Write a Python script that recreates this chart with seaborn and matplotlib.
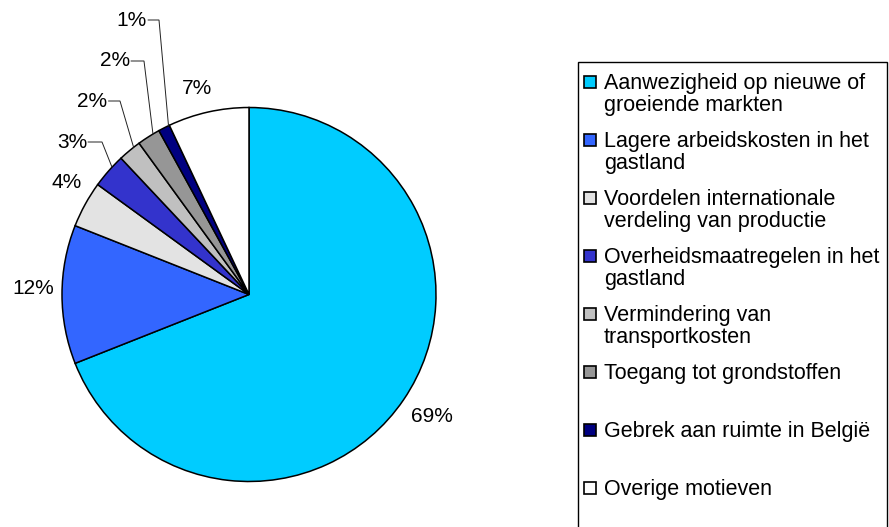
import numpy as np
import matplotlib
matplotlib.use("Agg")
import matplotlib.pyplot as plt
import seaborn as sns
from matplotlib.patches import Rectangle

# ---- data ----
categories = [
    "Aanwezigheid op nieuwe of\ngroeiende markten",
    "Lagere arbeidskosten in het\ngastland",
    "Voordelen internationale\nverdeling van productie",
    "Overheidsmaatregelen in het\ngastland",
    "Vermindering van\ntransportkosten",
    "Toegang tot grondstoffen",
    "Gebrek aan ruimte in België",
    "Overige motieven",
]
values = [69, 12, 4, 3, 2, 2, 1, 7]
pct_labels = ["69%", "12%", "4%", "3%", "2%", "2%", "1%", "7%"]
colors = ["#00CCFF", "#3366FF", "#E3E3E3", "#3333CC",
          "#C0C0C0", "#969696", "#000080", "#FFFFFF"]

# ---- layout (pixels) ----
W, H = 889, 527
CX, CY, R = 249, 294.5, 187.0
FONT = "Liberation Sans"

sns.set_theme(style="white")
plt.rcParams["font.family"] = [FONT, "DejaVu Sans"]

fig = plt.figure(figsize=(W / 100, H / 100), dpi=100)
fig.patch.set_facecolor("white")
ax = fig.add_axes([0, 0, 1, 1])
ax.set_facecolor("white")

ax.pie(values, colors=colors, startangle=90, counterclock=False, radius=1.0,
       wedgeprops=dict(edgecolor="black", linewidth=1.1))
ax.set_xlim(-CX / R, (W - CX) / R)
ax.set_ylim(-(H - CY) / R, CY / R)
ax.set_aspect("equal", adjustable="box")
ax.axis("off")

def px(x, y):
    return (x - CX) / R, (CY - y) / R

# mid angles of wedges
cum = np.cumsum([0] + values[:-1]) + np.array(values) / 2
mid = np.deg2rad(90 - np.array(cum) / sum(values) * 360)

# label placement (text centre in px, elbow x in px or None)
label_pos = {0: ((432, 417), None), 1: ((33, 288), None),
             2: ((67, 182), None), 3: ((72, 142), 102),
             4: ((92.5, 101), 120), 5: ((115, 61), 144),
             6: ((132, 20), 159), 7: ((197, 88), None)}
for i, lab in enumerate(pct_labels):
    (tx, ty), ex = label_pos[i]
    x0, y0 = px(tx, ty)
    ax.text(x0, y0, lab, ha="center", va="center", fontsize=15,
            color="black", family=FONT)
    if ex is not None:
        xs, ys = px(tx + 16, ty)
        xe, _ = px(ex, ty)
        a = mid[i] - np.deg2rad(1.5)
        xa, ya = np.cos(a), np.sin(a)
        ax.plot([xs, xe, xa], [ys, ys, ya], color="#222222", lw=0.7,
                solid_joinstyle="miter")

# ---- legend (drawn in pixel space) ----
lax = fig.add_axes([0, 0, 1, 1])
lax.set_xlim(0, W)
lax.set_ylim(H, 0)
lax.axis("off")
lax.patch.set_alpha(0)
lax.add_patch(Rectangle((578, 62), 309, 480, facecolor="white",
                        edgecolor="black", linewidth=1.0))
y0, step, lh, ms = 82, 58, 22.5, 12
for k, (cat, col) in enumerate(zip(categories, colors)):
    yc = y0 + k * step
    lax.add_patch(Rectangle((590 - ms / 2, yc - ms / 2), ms, ms,
                            facecolor=col, edgecolor="black", linewidth=1.2))
    for j, line in enumerate(cat.split("\n")):
        lax.text(604, yc + 7 + j * lh, line, ha="left", va="baseline",
                 fontsize=15.5, color="black", family=FONT)

fig.savefig("out.png", dpi=100, facecolor="white")
